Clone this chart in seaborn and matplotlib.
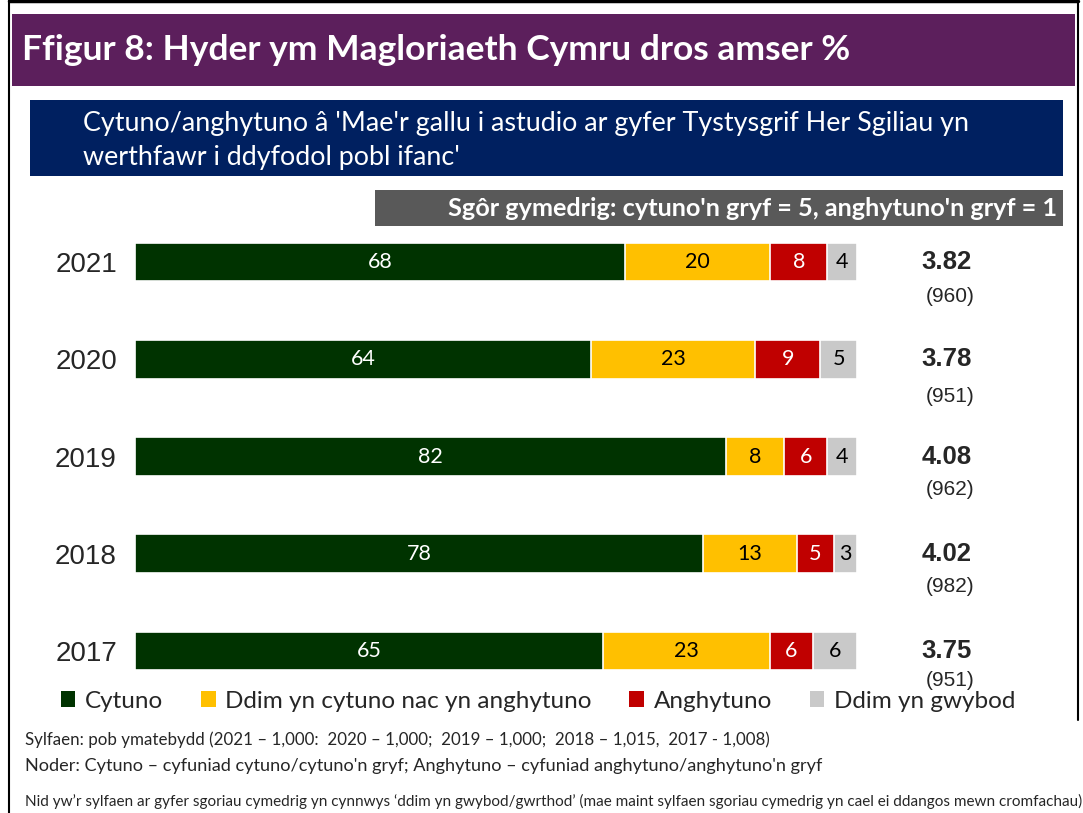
import pandas as pd
import matplotlib.pyplot as plt
from matplotlib.patches import Rectangle, Patch
from matplotlib.lines import Line2D
import seaborn as sns

# Data
years = ["2021", "2020", "2019", "2018", "2017"]
categories = ["Cytuno", "Ddim yn cytuno nac yn anghytuno", "Anghytuno", "Ddim yn gwybod"]
# bar widths (% share)
cytuno = [67.9, 63.2, 81.9, 78.7, 64.8]
canol = [20.1, 22.7, 8.0, 13.0, 23.1]
anghytuno = [7.9, 9.0, 6.0, 5.1, 6.0]
ddim_gwybod = [4.1, 5.1, 4.1, 3.2, 6.1]
# printed labels (rounded)
label_cytuno = [68, 64, 82, 78, 65]
label_canol = [20, 23, 8, 13, 23]
label_anghytuno = [8, 9, 6, 5, 6]
label_ddim = [4, 5, 4, 3, 6]
mean_scores = ["3.82", "3.78", "4.08", "4.02", "3.75"]
mean_bases = ["(960)", "(951)", "(962)", "(982)", "(951)"]

colors = ["#003300", "#FFC000", "#C00000", "#C9C9C9"]
text_colors = ["white", "black", "white", "black"]
# vertical offset of the base size under each mean score (layout only)
base_offset = [0.35, 0.38, 0.34, 0.34, 0.30]

W, H = 1083, 813
sns.set_theme(style="white")
plt.rcParams["font.family"] = ["Lato", "DejaVu Sans"]
ARIAL = ["Liberation Sans", "DejaVu Sans"]

fig = plt.figure(figsize=(W / 100, H / 100), dpi=100)
fig.patch.set_facecolor("white")


def fx(x):
    return x / W


def fy(y):
    return 1 - y / H


def box(x0, y0, x1, y1, color):
    fig.add_artist(Rectangle((fx(x0), fy(y1)), fx(x1) - fx(x0), fy(y0) - fy(y1),
                             transform=fig.transFigure, facecolor=color,
                             edgecolor="none", zorder=0))


# frame lines
fig.add_artist(Line2D([fx(9), fx(9)], [fy(0), fy(813)], color="black", lw=1.5, transform=fig.transFigure))
fig.add_artist(Line2D([fx(1078), fx(1078)], [fy(0), fy(720)], color="black", lw=1.5, transform=fig.transFigure))
fig.add_artist(Line2D([fx(9), fx(1078)], [fy(1.5), fy(1.5)], color="black", lw=2.5, transform=fig.transFigure))

# header bands
box(12, 14, 1075, 86, "#5C1F5C")
fig.text(fx(22), fy(50), "Ffigur 8: Hyder ym Magloriaeth Cymru dros amser %", color="white",
         fontsize=25.5, fontweight="bold", va="center", ha="left")
box(30, 100, 1063, 176, "#002060")
fig.text(fx(83), fy(123), "Cytuno/anghytuno â 'Mae'r gallu i astudio ar gyfer Tystysgrif Her Sgiliau yn",
         color="white", fontsize=19.4, va="center", ha="left")
fig.text(fx(83), fy(157), "werthfawr i ddyfodol pobl ifanc'", color="white", fontsize=19.4,
         va="center", ha="left")
box(375, 190, 1063, 226, "#595959")
fig.text(fx(1057), fy(208), "Sgôr gymedrig: cytuno'n gryf = 5, anghytuno'n gryf = 1", color="white",
         fontsize=18.2, fontweight="bold", va="center", ha="right")

# stacked bars
spacing = (651 - 262) / 4
top = 262 - spacing / 2
bottom = 651 + spacing / 2
ax = fig.add_axes([fx(135), fy(bottom), fx(857) - fx(135), fy(top) - fy(bottom)])

df = pd.DataFrame({"year": years, categories[0]: cytuno, categories[1]: canol,
                   categories[2]: anghytuno, categories[3]: ddim_gwybod})
cum = df[categories].cumsum(axis=1)
for cat, col in zip(reversed(categories), reversed(colors)):
    sns.barplot(data=pd.DataFrame({"year": years, "v": cum[cat]}), x="v", y="year",
                order=years, orient="h", color=col, width=0.4, edgecolor="white",
                linewidth=1.2, saturation=1, ax=ax)

labels = [label_cytuno, label_canol, label_anghytuno, label_ddim]
for j, cat in enumerate(categories):
    for i, y in enumerate(years):
        mid = cum[cat].iloc[i] - df[cat].iloc[i] / 2
        ax.text(mid, i, str(labels[j][i]), color=text_colors[j], fontsize=15.5,
                ha="center", va="center")

for i in range(len(years)):
    ax.text(112.4, i, mean_scores[i], fontsize=18.5, fontweight="bold", ha="center", va="center",
            family=ARIAL, clip_on=False)
    ax.text(112.9, i + base_offset[i], mean_bases[i], fontsize=15, ha="center", va="center",
            family=ARIAL, clip_on=False)

ax.set_xlim(0, 100)
ax.set_ylim(4.5, -0.5)
ax.set_xlabel("")
ax.set_ylabel("")
ax.set_xticks([])
ax.tick_params(axis="y", length=0, pad=13, labelsize=20)
for t in ax.get_yticklabels():
    t.set_fontfamily(ARIAL)
sns.despine(ax=ax, left=True, bottom=True)
ax.patch.set_alpha(0)

# legend
handles = [Patch(facecolor=c, edgecolor="none") for c in colors]
fig.legend(handles, categories, loc="center left", bbox_to_anchor=(fx(51), fy(701)), ncol=4,
           frameon=False, fontsize=17.5, handlelength=0.6, handleheight=0.6, handletextpad=0.4,
           columnspacing=1.55, borderaxespad=0)

# footnotes
fig.text(fx(25), fy(740), "Sylfaen: pob ymatebydd (2021 – 1,000:  2020 – 1,000;  2019 – 1,000;  2018 – 1,015,  2017 - 1,008)",
         fontsize=12.2, va="center", ha="left")
fig.text(fx(25), fy(766), "Noder: Cytuno – cyfuniad cytuno/cytuno'n gryf; Anghytuno – cyfuniad anghytuno/anghytuno'n gryf",
         fontsize=13.05, va="center", ha="left")
fig.text(fx(25), fy(801), "Nid yw’r sylfaen ar gyfer sgoriau cymedrig yn cynnwys ‘ddim yn gwybod/gwrthod’ (mae maint sylfaen sgoriau cymedrig yn cael ei ddangos mewn cromfachau)",
         fontsize=11, va="center", ha="left")

fig.savefig("out.png", dpi=100)
